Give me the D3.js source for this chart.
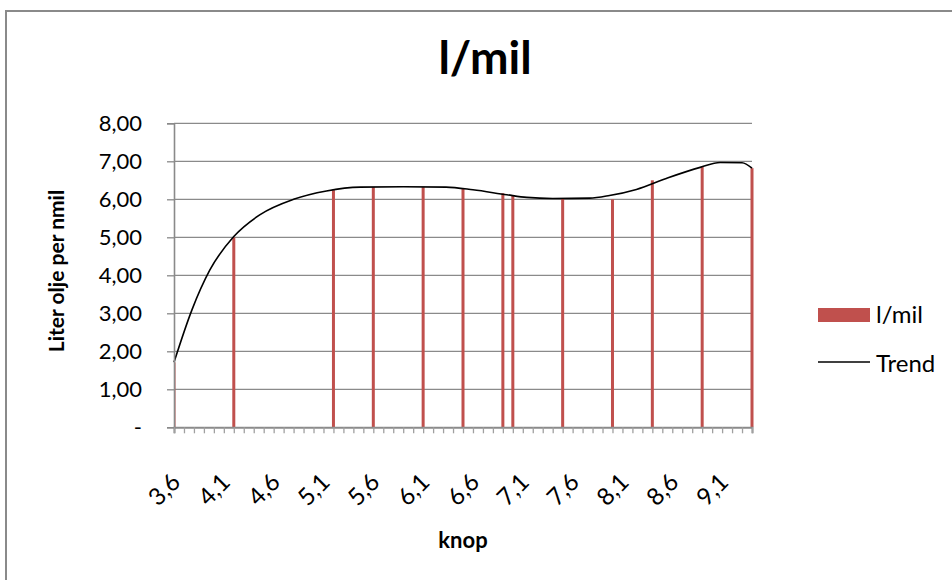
<!DOCTYPE html>
<html>
<head>
<meta charset="utf-8">
<script src="https://cdn.jsdelivr.net/npm/d3@7"></script>
<style>
    body { margin: 0; background: #fff; }
    svg { display: block; font-family: Lato, "Open Sans", sans-serif; }
</style>
</head>
<body>
<div id="chart"></div>
<script>
// knop categories on the x axis (3,6 .. 9,4)
var categories = d3.range(36, 95).map(function (d) { return d / 10; });
var yTicks = [0, 1, 2, 3, 4, 5, 6, 7, 8];

// measured points (l/mil)
var knop = [3.6, 4.2, 5.2, 5.6, 6.1, 6.5, 6.9, 7.0, 7.5, 8.0, 8.4, 8.9, 9.4];
var literPerMil = [1.71, 5.00, 6.24, 6.32, 6.32, 6.27, 6.16, 6.10, 6.02, 6.00, 6.50, 6.86, 6.82];

// trend line
var trendKnop = [3.6, 3.78, 3.96, 4.2, 4.46, 4.8, 5.13, 5.47, 5.9, 6.33, 6.6, 6.94, 7.14, 7.4, 7.77, 7.97, 8.24, 8.54, 8.88, 9.08, 9.3, 9.4];
var trendValues = [1.71, 3.09, 4.14, 5.02, 5.59, 6.0, 6.22, 6.32, 6.33, 6.32, 6.25, 6.12, 6.05, 6.02, 6.03, 6.1, 6.26, 6.55, 6.84, 6.97, 6.96, 6.82];

const WIDTH = 952;
const HEIGHT = 580;
const LEFT = 174, RIGHT = 752, TOP = 123.3, BOTTOM = 427.3;
const GRID = "#8a8a8a";
const BAR = "#C0504D";

var svg = d3.select("#chart")
    .append("svg")
        .attr("width", WIDTH)
        .attr("height", HEIGHT);

svg.append("rect")
    .attr("width", WIDTH)
    .attr("height", HEIGHT)
    .attr("fill", "white");

// chart border (runs off right/bottom)
svg.append("rect")
    .attr("x", 6)
    .attr("y", 11)
    .attr("width", WIDTH + 20)
    .attr("height", HEIGHT + 20)
    .attr("fill", "none")
    .attr("stroke", GRID)
    .attr("stroke-width", 2);

var x = d3.scalePoint()
    .domain(categories)
    .range([LEFT, RIGHT]);

var xLin = d3.scaleLinear()
    .domain([categories[0], categories[categories.length - 1]])
    .range([LEFT, RIGHT]);

var y = d3.scaleLinear()
    .domain([0, 8])
    .range([BOTTOM, TOP]);

// gridlines
svg.append("g")
    .selectAll("line")
    .data(yTicks.slice(1))
    .enter()
    .append("line")
        .attr("x1", LEFT)
        .attr("x2", RIGHT)
        .attr("y1", function (d) { return y(d); })
        .attr("y2", function (d) { return y(d); })
        .attr("stroke", GRID)
        .attr("stroke-width", 1.3);

svg.append("clipPath")
    .attr("id", "plot")
    .append("rect")
        .attr("x", LEFT)
        .attr("y", 0)
        .attr("width", RIGHT - LEFT + 3)
        .attr("height", BOTTOM);

// bars
svg.append("g")
    .attr("clip-path", "url(#plot)")
    .selectAll("rect")
    .data(knop)
    .enter()
    .append("rect")
        .attr("x", function (d) { return x(d) - 1.5; })
        .attr("width", 3)
        .attr("y", function (d, i) { return y(literPerMil[i]); })
        .attr("height", function (d, i) { return BOTTOM - y(literPerMil[i]); })
        .attr("fill", BAR);

// trend
var line = d3.line()
    .x(function (d, i) { return xLin(d); })
    .y(function (d, i) { return y(trendValues[i]); })
    .curve(d3.curveMonotoneX);

svg.append("path")
    .attr("d", line(trendKnop))
    .attr("fill", "none")
    .attr("stroke", "black")
    .attr("stroke-width", 1.6);

// y axis
var yAxis = svg.append("g")
    .attr("transform", "translate(" + LEFT + ",0)")
    .call(d3.axisLeft(y)
        .tickValues(yTicks)
        .tickSize(7)
        .tickPadding(25)
        .tickFormat(function (d) { return d === 0 ? "-" : d.toFixed(2).replace(".", ","); }));

yAxis.select(".domain").attr("stroke", GRID).attr("stroke-width", 1.6);
yAxis.selectAll(".tick line").attr("stroke", GRID).attr("stroke-width", 1.3);
yAxis.selectAll("text")
    .attr("font-size", 22)
    .attr("font-family", "Lato")
    .attr("fill", "black");

// x axis
var xAxis = svg.append("g")
    .attr("transform", "translate(0," + BOTTOM + ")")
    .call(d3.axisBottom(x)
        .tickSize(6)
        .tickFormat(function (d, i) { return i % 5 === 0 ? d.toFixed(1).replace(".", ",") : ""; }));

xAxis.select(".domain").attr("stroke", GRID).attr("stroke-width", 2);
xAxis.selectAll(".tick line").attr("stroke", "#a0a0a0").attr("stroke-width", 1.3);
xAxis.selectAll("text")
    .attr("font-size", 24)
    .attr("font-family", "Lato")
    .attr("fill", "black")
    .attr("text-anchor", "end")
    .attr("dy", 0)
    .attr("transform", "translate(1,50) rotate(-45)");

// titles
svg.append("text")
    .attr("x", 485)
    .attr("y", 74)
    .attr("text-anchor", "middle")
    .attr("font-size", 46)
    .attr("font-weight", "bold")
    .text("l/mil");

svg.append("text")
    .attr("transform", "translate(64,271) rotate(-90)")
    .attr("text-anchor", "middle")
    .attr("font-size", 21)
    .attr("font-weight", "bold")
    .text("Liter olje per nmil");

svg.append("text")
    .attr("x", 463)
    .attr("y", 548)
    .attr("text-anchor", "middle")
    .attr("font-size", 22)
    .attr("font-weight", "bold")
    .text("knop");

// legend
var legend = svg.append("g");

legend.append("rect")
    .attr("x", 818)
    .attr("y", 308)
    .attr("width", 52)
    .attr("height", 14)
    .attr("fill", BAR);

legend.append("text")
    .attr("x", 876)
    .attr("y", 323)
    .attr("font-size", 24)
    .text("l/mil");

legend.append("line")
    .attr("x1", 818)
    .attr("x2", 870)
    .attr("y1", 362)
    .attr("y2", 362)
    .attr("stroke", "black")
    .attr("stroke-width", 1.6);

legend.append("text")
    .attr("x", 876)
    .attr("y", 372)
    .attr("font-size", 24)
    .text("Trend");
</script>
</body>
</html>
